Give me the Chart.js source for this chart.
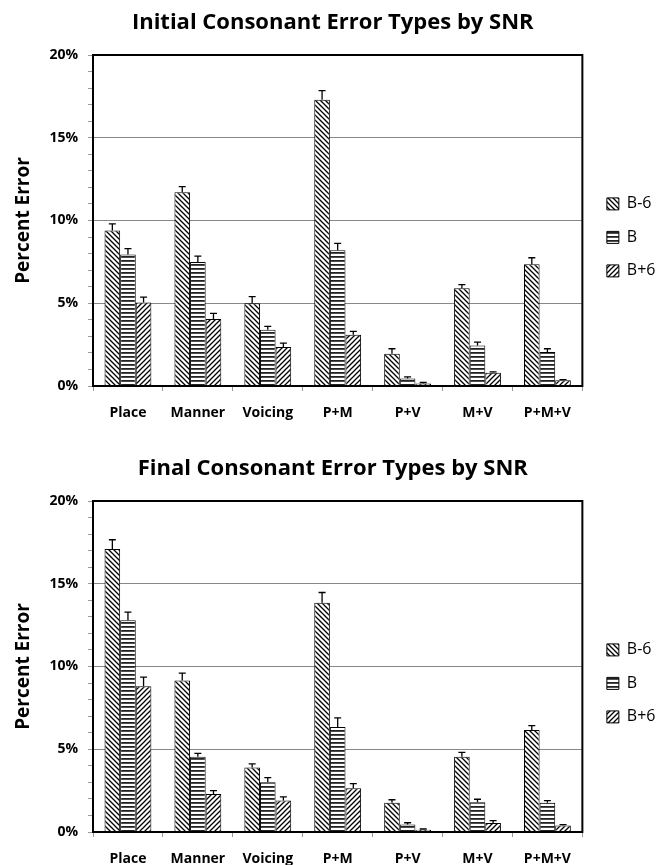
<!DOCTYPE html>
<html lang="en">
<head>
    <meta charset="UTF-8">
    <title>Consonant Error Types by SNR</title>
    <script src="https://cdn.jsdelivr.net/npm/chart.js"></script>
    <style>
        body {
            margin: 0;
            background: #fff;
            overflow: hidden;
        }
        .panel {
            position: absolute;
            left: 0;
            width: 667px;
            height: 446px;
        }
    </style>
</head>
<body>
    <div class="panel" style="top:0"><canvas id="initialChart" width="667" height="446"></canvas></div>
    <div class="panel" style="top:446px"><canvas id="finalChart" width="667" height="446"></canvas></div>

    <script>
        // Data
        const categories = ['Place', 'Manner', 'Voicing', 'P+M', 'P+V', 'M+V', 'P+M+V'];
        const seriesNames = ['B-6', 'B', 'B+6'];

        const initialBm6 = [9.4, 11.7, 5.0, 17.3, 1.95, 5.9, 7.35];
        const initialB = [7.95, 7.5, 3.4, 8.2, 0.45, 2.45, 2.05];
        const initialBp6 = [5.05, 4.05, 2.35, 3.1, 0.15, 0.8, 0.35];
        const initialBm6Err = [0.4, 0.35, 0.4, 0.55, 0.3, 0.22, 0.4];
        const initialBErr = [0.35, 0.35, 0.2, 0.42, 0.1, 0.2, 0.2];
        const initialBp6Err = [0.32, 0.34, 0.24, 0.2, 0.06, 0.05, 0.03];

        const finalBm6 = [17.1, 9.15, 3.9, 13.85, 1.77, 4.55, 6.17];
        const finalB = [12.8, 4.55, 3.0, 6.35, 0.46, 1.8, 1.77];
        const finalBp6 = [8.8, 2.3, 1.9, 2.65, 0.14, 0.55, 0.4];
        const finalBm6Err = [0.56, 0.45, 0.22, 0.62, 0.18, 0.26, 0.26];
        const finalBErr = [0.48, 0.2, 0.28, 0.54, 0.1, 0.18, 0.12];
        const finalBp6Err = [0.56, 0.2, 0.22, 0.27, 0.04, 0.14, 0.04];

        Chart.defaults.font.family = "'Open Sans', sans-serif";
        Chart.defaults.color = '#000';

        // hatch fills like the old Excel patterns
        function makePattern(kind) {
            const s = kind === 'h' ? 4 : 5;
            const c = document.createElement('canvas');
            c.width = s;
            c.height = s;
            const g = c.getContext('2d');
            g.fillStyle = '#fff';
            g.fillRect(0, 0, s, s);
            g.strokeStyle = '#000';
            g.lineWidth = 1.3;
            if (kind === 'h') {
                g.fillStyle = '#222';
                g.fillRect(0, 0, s, 1.8);
            } else if (kind === 'back') {
                g.beginPath();
                g.moveTo(-1, -1); g.lineTo(s + 1, s + 1);
                g.moveTo(-1, s - 1); g.lineTo(1, s + 1);
                g.moveTo(s - 1, -1); g.lineTo(s + 1, 1);
                g.stroke();
            } else {
                g.beginPath();
                g.moveTo(-1, s + 1); g.lineTo(s + 1, -1);
                g.moveTo(-1, 1); g.lineTo(1, -1);
                g.moveTo(s - 1, s + 1); g.lineTo(s + 1, s - 1);
                g.stroke();
            }
            return g.createPattern(c, 'repeat');
        }

        const fills = [makePattern('back'), makePattern('h'), makePattern('fwd')];

        // upper error bars only
        const errorBars = {
            id: 'errorBars',
            afterDatasetsDraw(chart) {
                const ctx = chart.ctx;
                const y = chart.scales.y;
                ctx.save();
                ctx.strokeStyle = '#000';
                ctx.lineWidth = 1.3;
                chart.data.datasets.forEach((ds, di) => {
                    chart.getDatasetMeta(di).data.forEach((bar, i) => {
                        const top = y.getPixelForValue(ds.data[i] + ds.errors[i]);
                        ctx.beginPath();
                        ctx.moveTo(bar.x, bar.y);
                        ctx.lineTo(bar.x, top);
                        ctx.moveTo(bar.x - 3.5, top);
                        ctx.lineTo(bar.x + 3.5, top);
                        ctx.stroke();
                    });
                });
                ctx.restore();
            }
        };

        const plotBorder = {
            id: 'plotBorder',
            afterDraw(chart) {
                const a = chart.chartArea;
                const ctx = chart.ctx;
                ctx.save();
                ctx.strokeStyle = '#000';
                ctx.lineWidth = 2;
                ctx.strokeRect(a.left, a.top, a.right - a.left, a.bottom - a.top);
                ctx.restore();
            }
        };

        function createChart(id, title, values, errors) {
            const ctx = document.getElementById(id).getContext('2d');
            return new Chart(ctx, {
                type: 'bar',
                data: {
                    labels: categories,
                    datasets: seriesNames.map((name, k) => ({
                        label: name,
                        data: values[k],
                        errors: errors[k],
                        backgroundColor: fills[k],
                        borderColor: '#000',
                        borderWidth: 1,
                        categoryPercentage: 0.67,
                        barPercentage: 1.0
                    }))
                },
                options: {
                    responsive: false,
                    animation: false,
                    layout: { padding: { right: 1.5 } },
                    plugins: {
                        title: {
                            display: true,
                            text: title,
                            font: { size: 22, weight: 'bold' },
                            padding: { top: 10, bottom: 18.6 }
                        },
                        legend: {
                            position: 'right',
                            align: 'start',
                            fullSize: false,
                            title: { display: true, text: '', font: { size: 12 }, padding: { top: 109, bottom: 0 } },
                            labels: {
                                boxWidth: 12,
                                boxHeight: 12,
                                padding: 17.5,
                                font: { size: 16 },
                                color: '#000'
                            }
                        },
                        tooltip: { enabled: false }
                    },
                    scales: {
                        x: {
                            grid: { offset: true, drawOnChartArea: false, tickLength: 5, color: '#999' },
                            border: { display: false },
                            ticks: { font: { size: 14, weight: 'bold' }, padding: 14 },
                            afterFit(s) { s.height = 60; }
                        },
                        y: {
                            min: 0,
                            max: 20,
                            border: { display: false },
                            grid: {
                                tickLength: 5,
                                tickColor: '#999',
                                color: c => (c.tick && c.tick.value % 5 === 0 ? '#888' : 'transparent')
                            },
                            ticks: {
                                stepSize: 1,
                                autoSkip: false,
                                padding: 10,
                                font: { size: 14, weight: 'bold' },
                                callback: v => (v % 5 === 0 ? v + '%' : '')
                            },
                            title: {
                                display: true,
                                text: 'Percent Error',
                                font: { size: 19, weight: 'bold' },
                                padding: { top: 12, bottom: 0 }
                            },
                            afterFit(s) { s.width = 93; }
                        },
                        gap: {
                            type: 'linear',
                            position: 'right',
                            ticks: { display: false },
                            grid: { display: false },
                            border: { display: false },
                            afterFit(s) { s.width = 7; }
                        }
                    }
                },
                plugins: [errorBars, plotBorder]
            });
        }

        createChart('initialChart', 'Initial Consonant Error Types by SNR',
            [initialBm6, initialB, initialBp6], [initialBm6Err, initialBErr, initialBp6Err]);
        createChart('finalChart', 'Final Consonant Error Types by SNR',
            [finalBm6, finalB, finalBp6], [finalBm6Err, finalBErr, finalBp6Err]);
    </script>
</body>
</html>
